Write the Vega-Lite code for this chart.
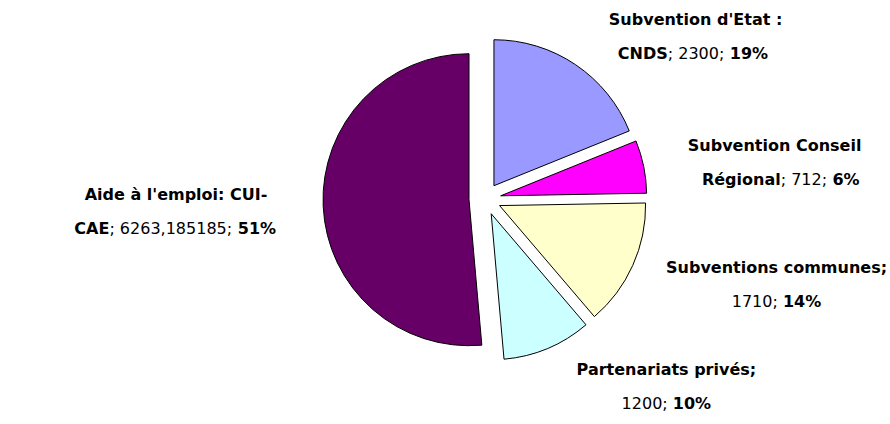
{
  "$schema": "https://vega.github.io/schema/vega-lite/v6.json",
  "width": 810,
  "height": 398,
  "autosize": {"type": "none"},
  "padding": {"left": 80, "top": 0, "right": 0, "bottom": 26},
  "background": "white",
  "config": {"view": {"stroke": null}, "text": {"font": "DejaVu Sans", "fontSize": 16, "color": "black"}},
  "data": {"values": [
    {"n": 1, "cat": "Subvention d'Etat : CNDS", "l1": "Subvention d'Etat :", "pre": "CNDS", "mid": "; 2300;", "ptxt": "19%", "value": 2300},
    {"n": 2, "cat": "Subvention Conseil Régional", "l1": "Subvention Conseil", "pre": "Régional", "mid": "; 712;", "ptxt": "6%", "value": 712},
    {"n": 3, "cat": "Subventions communes", "l1": "Subventions communes;", "pre": "", "mid": "1710;", "ptxt": "14%", "value": 1710},
    {"n": 4, "cat": "Partenariats privés", "l1": "Partenariats privés;", "pre": "", "mid": "1200;", "ptxt": "10%", "value": 1200},
    {"n": 5, "cat": "Aide à l'emploi: CUI-CAE", "l1": "Aide à l'emploi: CUI-", "pre": "CAE", "mid": "; 6263,185185;", "ptxt": "51%", "value": 6263.185185}
  ]},
  "layer": [
    {
      "mark": {
        "type": "arc",
        "radius": 146,
        "stroke": "black",
        "strokeWidth": 1,
        "xOffset": {"expr": "16*sin(scale('theta', 0.5*datum.value_start + 0.5*datum.value_end))"},
        "yOffset": {"expr": "-16*cos(scale('theta', 0.5*datum.value_start + 0.5*datum.value_end))"}
      },
      "encoding": {
        "theta": {"field": "value", "type": "quantitative", "stack": true},
        "order": {"field": "n", "type": "quantitative"},
        "color": {
          "field": "cat",
          "type": "nominal",
          "scale": {
            "domain": ["Subvention d'Etat : CNDS", "Subvention Conseil Régional", "Subventions communes", "Partenariats privés", "Aide à l'emploi: CUI-CAE"],
            "range": ["#9999FF", "#FF00FF", "#FFFFCC", "#CCFFFF", "#660066"]
          },
          "legend": null
        }
      }
    },
    {
      "mark": {
        "type": "text",
        "radius": 200,
        "fontWeight": "bold",
        "align": "center",
        "baseline": "middle",
        "dy": -13,
        "dx": {"expr": "(sin(scale('theta', 0.5*datum.value_start + 0.5*datum.value_end)) > 0 ? 1 : -1)*max(10.4*length(datum.l1), 11.2*length(datum.pre) + 10.18*length(datum.mid) - 4.8*((datum.pre == '' ? 1 : 3) + (indexof(datum.mid, ',') >= 0 ? 1 : 0)) + 5.1 + 12.8*length(datum.ptxt))/2"}
      },
      "encoding": {
        "theta": {"field": "value", "type": "quantitative", "stack": true},
        "order": {"field": "n", "type": "quantitative"},
        "detail": {"field": "cat", "type": "nominal"},
        "text": {"field": "l1", "type": "nominal"}
      }
    },
    {
      "mark": {
        "type": "text",
        "radius": 200,
        "fontWeight": "bold",
        "align": "right",
        "baseline": "middle",
        "dy": 21,
        "dx": {"expr": "(sin(scale('theta', 0.5*datum.value_start + 0.5*datum.value_end)) > 0 ? 1 : -1)*max(10.4*length(datum.l1), 11.2*length(datum.pre) + 10.18*length(datum.mid) - 4.8*((datum.pre == '' ? 1 : 3) + (indexof(datum.mid, ',') >= 0 ? 1 : 0)) + 5.1 + 12.8*length(datum.ptxt))/2 - (11.2*length(datum.pre) + 10.18*length(datum.mid) - 4.8*((datum.pre == '' ? 1 : 3) + (indexof(datum.mid, ',') >= 0 ? 1 : 0)) + 5.1 + 12.8*length(datum.ptxt))/2 + 11.2*length(datum.pre)"}
      },
      "encoding": {
        "theta": {"field": "value", "type": "quantitative", "stack": true},
        "order": {"field": "n", "type": "quantitative"},
        "detail": {"field": "cat", "type": "nominal"},
        "text": {"field": "pre", "type": "nominal"}
      }
    },
    {
      "mark": {
        "type": "text",
        "radius": 200,
        "fontWeight": "normal",
        "align": "left",
        "baseline": "middle",
        "dy": 21,
        "dx": {"expr": "(sin(scale('theta', 0.5*datum.value_start + 0.5*datum.value_end)) > 0 ? 1 : -1)*max(10.4*length(datum.l1), 11.2*length(datum.pre) + 10.18*length(datum.mid) - 4.8*((datum.pre == '' ? 1 : 3) + (indexof(datum.mid, ',') >= 0 ? 1 : 0)) + 5.1 + 12.8*length(datum.ptxt))/2 - (11.2*length(datum.pre) + 10.18*length(datum.mid) - 4.8*((datum.pre == '' ? 1 : 3) + (indexof(datum.mid, ',') >= 0 ? 1 : 0)) + 5.1 + 12.8*length(datum.ptxt))/2 + 11.2*length(datum.pre)"}
      },
      "encoding": {
        "theta": {"field": "value", "type": "quantitative", "stack": true},
        "order": {"field": "n", "type": "quantitative"},
        "detail": {"field": "cat", "type": "nominal"},
        "text": {"field": "mid", "type": "nominal"}
      }
    },
    {
      "mark": {
        "type": "text",
        "radius": 200,
        "fontWeight": "bold",
        "align": "left",
        "baseline": "middle",
        "dy": 21,
        "dx": {"expr": "(sin(scale('theta', 0.5*datum.value_start + 0.5*datum.value_end)) > 0 ? 1 : -1)*max(10.4*length(datum.l1), 11.2*length(datum.pre) + 10.18*length(datum.mid) - 4.8*((datum.pre == '' ? 1 : 3) + (indexof(datum.mid, ',') >= 0 ? 1 : 0)) + 5.1 + 12.8*length(datum.ptxt))/2 - (11.2*length(datum.pre) + 10.18*length(datum.mid) - 4.8*((datum.pre == '' ? 1 : 3) + (indexof(datum.mid, ',') >= 0 ? 1 : 0)) + 5.1 + 12.8*length(datum.ptxt))/2 + 11.2*length(datum.pre) + 10.18*length(datum.mid) - 4.8*((datum.pre == '' ? 1 : 3) + (indexof(datum.mid, ',') >= 0 ? 1 : 0)) + 5.1"}
      },
      "encoding": {
        "theta": {"field": "value", "type": "quantitative", "stack": true},
        "order": {"field": "n", "type": "quantitative"},
        "detail": {"field": "cat", "type": "nominal"},
        "text": {"field": "ptxt", "type": "nominal"}
      }
    }
  ]
}
